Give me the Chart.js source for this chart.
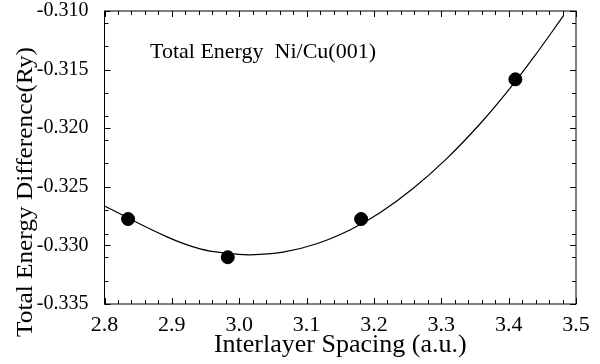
<!DOCTYPE html>
<html>
<head>
<meta charset="utf-8">
<script src="https://cdn.jsdelivr.net/npm/chart.js@4"></script>
<style>
  body { margin: 0; background: #fff; }
  #wrap { width: 600px; height: 364px; }
</style>
</head>
<body>
<div id="wrap"><canvas id="energyChart"></canvas></div>
<script>
// calculated points (interlayer spacing, a.u. / energy, Ry)
const spacing = [2.835, 2.983, 3.181, 3.410];
const energy = [-0.32775, -0.33101, -0.32775, -0.31583];

// fitted curve
const fitSpacing = [2.800, 2.892, 2.942, 2.983, 3.016, 3.065, 3.115, 3.165, 3.209, 3.258, 3.308, 3.358, 3.398, 3.437, 3.482];
const fitEnergy = [-0.32664, -0.32925, -0.33030, -0.33068, -0.33080, -0.33058, -0.32986, -0.32866, -0.32721, -0.32515, -0.32260, -0.31960, -0.31688, -0.31396, -0.31036];

const xTicks = [2.8, 2.9, 3.0, 3.1, 3.2, 3.3, 3.4, 3.5];
const yTicks = [-0.335, -0.330, -0.325, -0.320, -0.315, -0.310];

const serif = "'Liberation Serif', 'DejaVu Serif', serif";

// frame, inward tick marks, y title and the caption
const framePlugin = {
    id: 'frame',
    afterDraw(chart) {
        const { ctx, chartArea: a, scales: { x, y } } = chart;
        ctx.save();
        ctx.strokeStyle = '#000';
        ctx.lineWidth = 1;
        ctx.strokeRect(a.left, a.top, a.right - a.left, a.bottom - a.top);

        ctx.beginPath();
        for (let v = 2.8; v <= 3.5001; v += 0.02) {
            const px = Math.round(x.getPixelForValue(v)) + 0.5;
            const major = Math.abs(v * 10 - Math.round(v * 10)) < 0.001;
            const len = major ? 6 : 4;
            ctx.moveTo(px, a.bottom); ctx.lineTo(px, a.bottom - len);
            ctx.moveTo(px, a.top); ctx.lineTo(px, a.top + len);
        }
        for (let k = 0; k <= 25; k++) {
            const v = -0.335 + k * 0.001;
            const major = k % 5 === 0;
            if (!major && k % 2 === 1) continue;
            const py = Math.round(y.getPixelForValue(v)) + 0.5;
            const len = major ? 6 : 4;
            ctx.moveTo(a.left, py); ctx.lineTo(a.left + len, py);
            ctx.moveTo(a.right, py); ctx.lineTo(a.right - len, py);
        }
        ctx.stroke();

        ctx.fillStyle = '#000';
        ctx.textBaseline = 'middle';
        ctx.font = '22px ' + serif;
        ctx.fillText('Total Energy  Ni/Cu(001)', 150, 52);

        ctx.translate(32, 192);
        ctx.rotate(-Math.PI / 2);
        ctx.scale(1.1, 1);
        ctx.textAlign = 'center';
        ctx.textBaseline = 'alphabetic';
        ctx.font = '23px ' + serif;
        ctx.fillText('Total Energy Difference(Ry)', 0, 0);
        ctx.restore();
    }
};

new Chart(document.getElementById('energyChart'), {
    type: 'scatter',
    data: {
        datasets: [{
            label: 'fit',
            data: fitSpacing.map((s, i) => ({ x: s, y: fitEnergy[i] })),
            showLine: true,
            borderColor: '#000',
            borderWidth: 1.2,
            pointRadius: 0,
            tension: 0.4
        }, {
            label: 'calculated',
            data: spacing.map((s, i) => ({ x: s, y: energy[i] })),
            backgroundColor: '#000',
            borderColor: '#000',
            pointRadius: 6.5
        }]
    },
    plugins: [framePlugin],
    options: {
        responsive: true,
        maintainAspectRatio: false,
        animation: false,
        layout: { padding: { top: 11, right: 24, left: 0, bottom: 0 } },
        plugins: { legend: { display: false }, tooltip: { enabled: false } },
        scales: {
            x: {
                type: 'linear',
                min: 2.8, max: 3.5,
                afterBuildTicks: s => { s.ticks = xTicks.map(v => ({ value: v })); },
                afterFit: s => { s.height = 60; s.paddingLeft = 0; s.paddingRight = 0; },
                grid: { display: false },
                border: { display: false },
                ticks: { color: '#000', padding: 0, font: { family: serif, size: 22 }, callback: v => v.toFixed(1) },
                title: { display: true, text: 'Interlayer Spacing (a.u.)', color: '#000', padding: { top: 0, bottom: 3 }, font: { family: serif, size: 26 } }
            },
            y: {
                type: 'linear',
                min: -0.335, max: -0.310,
                afterBuildTicks: s => { s.ticks = yTicks.map(v => ({ value: v })); },
                afterFit: s => { s.width = 104.5; s.paddingTop = 0; s.paddingBottom = 0; },
                grid: { display: false },
                border: { display: false },
                ticks: { color: '#000', padding: 8, font: { family: serif, size: 20 }, callback: v => v.toFixed(3) }
            }
        }
    }
});
</script>
</body>
</html>
